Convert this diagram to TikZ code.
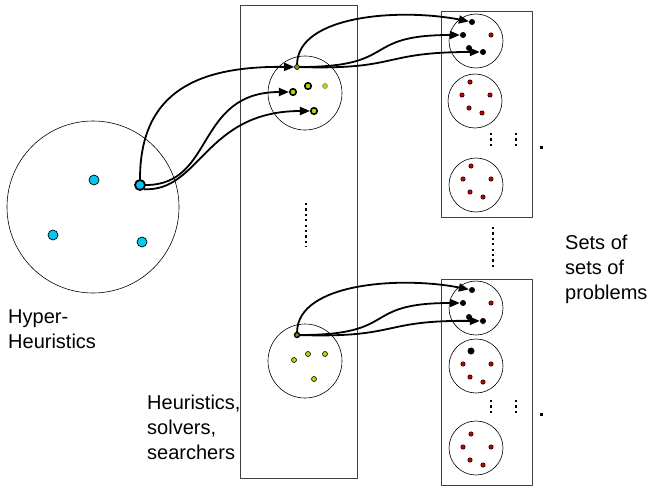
\documentclass[tikz,border=0pt]{standalone}
\usepackage{fontspec}
\setmainfont{Liberation Sans}
\usetikzlibrary{arrows.meta}
\definecolor{hhblue}{RGB}{0,200,240}
\definecolor{solvyellow}{RGB}{200,210,0}
\definecolor{probred}{RGB}{190,0,0}

\begin{document}
\begin{tikzpicture}[x=1pt,y=-1pt,line cap=round,line join=round,
	hdot/.style={circle,draw,fill=hhblue,inner sep=0pt,minimum size=10pt,line width=0.7pt},
	sdot/.style={circle,draw,fill=solvyellow,inner sep=0pt,minimum size=5pt,line width=0.6pt},
	pdot/.style={circle,draw,fill=probred,inner sep=0pt,minimum size=4.5pt,line width=0.5pt},
	bdot/.style={circle,fill=black,inner sep=0pt,minimum size=6pt},
	setbox/.style={draw=black!75,line width=0.8pt},
	link/.style={line width=1.8pt,-{Triangle[length=10pt,width=8pt]}},
	dotline/.style={line cap=butt,line width=2.2pt,dash pattern=on 2.2pt off 3.2pt},
	lbl/.style={font=\fontsize{20}{25}\selectfont,align=left,inner sep=0pt,anchor=north west}]
	\useasboundingbox (0,0) rectangle (650,487);

	% hyper-heuristics
	\draw[line width=0.6pt] (93,207) circle (86);
	\node[hdot] (h1) at (94,180) {};
	\node[hdot] (h2) at (53,235) {};
	\node[hdot] (h3) at (142,242) {};
	\node[hdot,line width=1.8pt] (hs) at (140,185) {};
	\node[lbl] (hhlabel) at (8,310) {Hyper-\\Heuristics};

	% heuristics, solvers, searchers
	\draw[setbox] (240,5) rectangle (357,478);
	\draw[line width=0.6pt] (305,93) circle (37);
	\draw[line width=0.6pt] (305,361) circle (37);
	\node[sdot,fill=solvyellow!70!black] (ms) at (297,67) {};
	\node[sdot,minimum size=6.5pt,line width=1.6pt] (m2) at (293,92) {};
	\node[sdot,minimum size=6.5pt,line width=1.6pt] (m3) at (314,111) {};
	\node[sdot,minimum size=6.5pt,line width=1.6pt] (m4) at (308,86) {};
	\node[sdot,draw=black!50] (m5) at (325,86) {};
	\node[sdot,fill=solvyellow!70!black,line width=1.4pt] (ns) at (297,335) {};
	\node[sdot] (n2) at (294,360) {};
	\node[sdot] (n3) at (308,354) {};
	\node[sdot] (n4) at (325,354) {};
	\node[sdot] (n5) at (314,379) {};
	\draw[dotline] (306,203) -- (306,247);
	\node[lbl] (solvlabel) at (147,395) {Heuristics,\\solvers,\\searchers};

	% sets of sets of problems
	\draw[setbox] (441,11) rectangle (532,217);
	\draw[setbox] (441,279) rectangle (532,485);
	\foreach \cx/\cy in {476/41,475/101,476/185,476/308,476/366,476/448}
		\draw[line width=0.6pt] (\cx,\cy) circle (27);
	\foreach \s/\cx/\cy in {a2/475/101,a3/476/185,b2/476/370,b3/476/453}
		\foreach \i/\dx/\dy in {1/-5/-19,2/-13/-6,3/15/-6,4/-6/7,5/7/12}
			\node[pdot] (\s\i) at (\cx+\dx,\cy+\dy) {};
	\node[bdot,minimum size=7pt] at (b21) {};
	\node[bdot] (a1t) at (472,22) {};
	\node[bdot] (a1m) at (463,35) {};
	\node[pdot] (a1r) at (491,35) {};
	\node[bdot] (a1x) at (469,48) {};
	\node[bdot] (a1b) at (483,52) {};
	\node[bdot] (b1t) at (472,290) {};
	\node[bdot] (b1m) at (463,303) {};
	\node[pdot] (b1r) at (491,303) {};
	\node[bdot] (b1x) at (469,317) {};
	\node[bdot] (b1b) at (483,321) {};
	\foreach \y in {133,400} {
		\draw[dotline] (491,\y) -- (491,\y+16);
		\draw[dotline] (516,\y) -- (516,\y+16);
		\fill (539.5,\y+12.5) rectangle +(3,3);
	}
	\draw[dotline] (493,227) -- (493,270);
	\node[lbl] (problabel) at (565,235) {Sets of\\sets of\\problems};

	% hyper-heuristic picks heuristics
	\draw[link] (hs) .. controls (140,90) and (200,66) .. (ms);
	\draw[link] (hs) .. controls (215,185) and (195,92) .. (m2);
	\draw[link] (hs.south east) .. controls (200,192) and (205,111) .. (m3);

	% heuristics applied to problems
	\draw[link] (ms) .. controls (298,15) and (400,8) .. (a1t);
	\draw[link] (ms) .. controls (400,67) and (360,35) .. (a1m);
	\draw[link] (ms) .. controls (400,70) and (380,52) .. (a1b);
	\draw[link] (ns) .. controls (298,283) and (400,276) .. (b1t);
	\draw[link] (ns) .. controls (400,335) and (360,303) .. (b1m);
	\draw[link] (ns) .. controls (400,338) and (380,320) .. (b1b);
\end{tikzpicture}
\end{document}
